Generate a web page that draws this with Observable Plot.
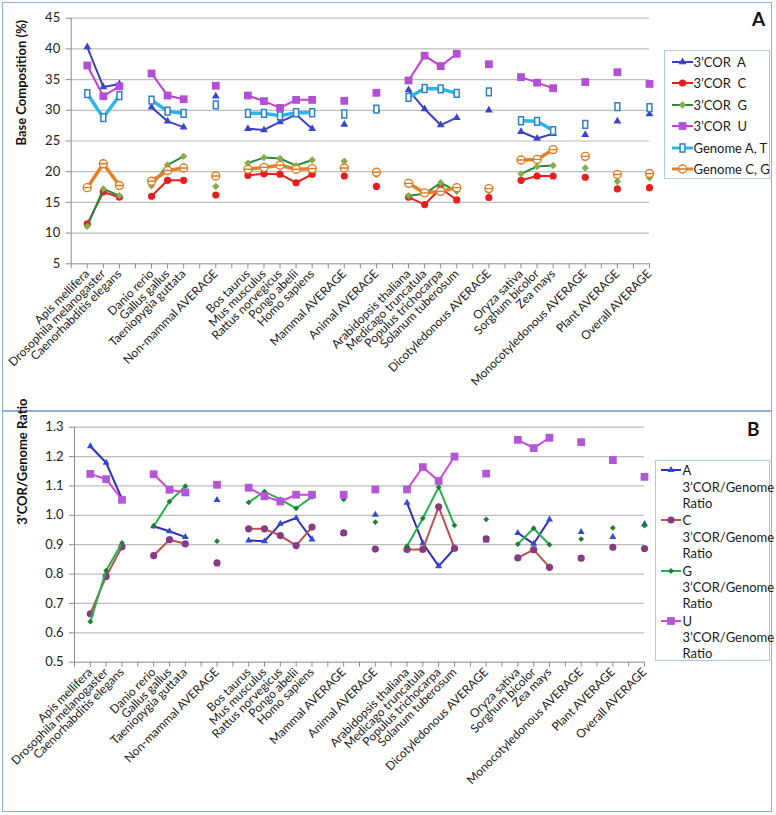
<!DOCTYPE html>
<html><head><meta charset="utf-8">
<script src="https://cdn.jsdelivr.net/npm/d3@7"></script>
<script src="https://cdn.jsdelivr.net/npm/@observablehq/plot@0.6"></script>
<style>
body{margin:0;background:#fff;font-family:Lato,"Open Sans",sans-serif;}
#wrap{position:relative;width:776px;height:815px;overflow:hidden;background:#fff;}
.box{position:absolute;border:1.5px solid #8EB0D9;box-sizing:border-box;}
.plot{position:absolute;left:0;}
.legend{position:absolute;border:1px solid #A9CBE6;background:#fff;box-sizing:border-box;}
.entry{position:absolute;font-size:13px;color:#1a1a1a;white-space:pre;line-height:16px;}
.letter{position:absolute;font-weight:bold;font-size:19px;color:#111;line-height:20px;}
</style></head><body><div id="wrap"></div><script>
// ---------- data ----------
const categories = ["Apis mellifera","Drosophila melanogaster","Caenorhabditis elegans","",
"Danio rerio","Gallus gallus","Taeniopygia guttata","",
"Non-mammal AVERAGE","",
"Bos taurus","Mus musculus","Rattus norvegicus","Pongo abelii","Homo sapiens","",
"Mammal AVERAGE","",
"Animal AVERAGE","",
"Arabidopsis thaliana","Medicago truncatula","Populus trichocarpa","Solanum tuberosum","",
"Dicotyledonous AVERAGE","",
"Oryza sativa","Sorghum bicolor","Zea mays","",
"Monocotyledonous AVERAGE","",
"Plant AVERAGE","",
"Overall AVERAGE"];

const corA  = [40.3,33.8,34.3,null, 30.5,28.2,27.25,null, 32.3,null, 27.0,26.8,28.1,29.3,27.0,null, 27.7,null, 30.1,null, 33.3,30.2,27.6,28.8,null, 30.0,null, 26.5,25.4,26.2,null, 26.0,null, 28.2,null, 29.4];
const corC  = [11.5,16.7,15.85,null, 16.0,18.6,18.6,null, 16.2,null, 19.4,19.66,19.6,18.2,19.6,null, 19.3,null, 17.6,null, 15.85,14.65,17.3,15.4,null, 15.8,null, 18.6,19.3,19.3,null, 19.1,null, 17.2,null, 17.4];
const corG  = [11.1,17.2,16.1,null, 17.7,21.1,22.5,null, 17.6,null, 21.4,22.3,22.15,21.0,21.9,null, 21.7,null, 19.55,null, 16.1,16.4,18.2,16.8,null, 16.9,null, 19.65,20.85,21.0,null, 20.6,null, 18.4,null, 19.0];
const corU  = [37.3,32.3,33.9,null, 36.0,32.4,31.8,null, 34.0,null, 32.4,31.5,30.4,31.7,31.7,null, 31.55,null, 32.85,null, 34.85,38.9,37.2,39.2,null, 37.5,null, 35.4,34.5,33.6,null, 34.6,null, 36.2,null, 34.3];
const genAT = [32.7,28.8,32.4,null, 31.65,29.85,29.5,null, 30.9,null, 29.5,29.5,29.1,29.6,29.6,null, 29.4,null, 30.2,null, 32.1,33.55,33.5,32.75,null, 33.0,null, 28.3,28.2,26.7,null, 27.7,null, 30.6,null, 30.45];
const genCG = [17.4,21.3,17.75,null, 18.45,20.2,20.6,null, 19.3,null, 20.4,20.7,21.05,20.4,20.5,null, 20.6,null, 19.9,null, 18.1,16.55,16.8,17.4,null, 17.25,null, 21.9,22.0,23.6,null, 22.5,null, 19.55,null, 19.7];

const ratioA = [1.235,1.179,1.055,null, 0.963,0.946,0.926,null, 1.052,null, 0.914,0.912,0.971,0.991,0.918,null, 0.940,null, 1.002,null, 1.043,0.905,0.827,0.887,null, 0.914,null, 0.940,0.903,0.986,null, 0.943,null, 0.926,null, 0.970];
const ratioC = [0.665,0.792,0.893,null, 0.863,0.917,0.903,null, 0.838,null, 0.954,0.954,0.931,0.897,0.960,null, 0.940,null, 0.885,null, 0.884,0.884,1.029,0.888,null, 0.920,null, 0.855,0.883,0.823,null, 0.854,null, 0.891,null, 0.887];
const ratioG = [0.638,0.812,0.906,null, 0.963,1.047,1.099,null, 0.912,null, 1.044,1.081,1.054,1.024,1.063,null, 1.054,null, 0.977,null, 0.895,0.990,1.096,0.966,null, 0.986,null, 0.902,0.956,0.900,null, 0.919,null, 0.957,null, 0.965];
const ratioU = [1.141,1.123,1.053,null, 1.140,1.087,1.078,null, 1.104,null, 1.094,1.065,1.047,1.070,1.070,null, 1.070,null, 1.088,null, 1.088,1.164,1.117,1.200,null, 1.142,null, 1.257,1.229,1.264,null, 1.249,null, 1.188,null, 1.131];

const ticksA = [5,10,15,20,25,30,35,40,45];
const ticksB = [0.5,0.6,0.7,0.8,0.9,1.0,1.1,1.2,1.3];

// ---------- symbols ----------
const tallRect = {draw(ctx,size){const h=Math.sqrt(size)*0.5,w=h*0.62;ctx.moveTo(-w,-h);ctx.lineTo(w,-h);ctx.lineTo(w,h);ctx.lineTo(-w,h);ctx.closePath();}};
const circleBar = {draw(ctx,size){const r=Math.sqrt(size/Math.PI);ctx.moveTo(r,0);ctx.arc(0,0,r,0,2*Math.PI);ctx.moveTo(-r,0);ctx.lineTo(r,0);}};

const seriesA = [
 {name:"3’COR  A", values:corA, line:"#3B3FC2", lw:2, sym:d3.symbolTriangle, r:2.9, fill:"#3A45C8"},
 {name:"3’COR  C", values:corC, line:"#E3221E", lw:2, sym:d3.symbolCircle, r:3.6, fill:"#E51F1F"},
 {name:"3’COR  G", values:corG, line:"#2A8A3C", lw:2, sym:d3.symbolDiamond2, r:3.3, fill:"#86AC4C"},
 {name:"3’COR  U", values:corU, line:"#C23FCF", lw:2, sym:d3.symbolSquare, r:4.4, fill:"#B150D2"},
 {name:"Genome A, T", values:genAT, line:"#2CB5EA", lw:3.5, sym:tallRect, r:4.4, fill:"#fff", stroke:"#2C80C9", sw:1.5},
 {name:"Genome C, G", values:genCG, line:"#E88028", lw:3.5, sym:circleBar, r:4, fill:"#fff", stroke:"#E07B22", sw:1.4}
];
const seriesB = [
 {name:"A", values:ratioA, line:"#2E2EB8", lw:2, sym:d3.symbolTriangle, r:2.6, fill:"#2F4DD2"},
 {name:"C", values:ratioC, line:"#C0504D", lw:2, sym:d3.symbolCircle, r:3.6, fill:"#873B82"},
 {name:"G", values:ratioG, line:"#27B04A", lw:2, sym:d3.symbolDiamond2, r:2.6, fill:"#1E7E32"},
 {name:"U", values:ratioU, line:"#CC45DD", lw:2, sym:d3.symbolSquare, r:4.4, fill:"#B457D6"}
];

function panel({series, ticks, fmt, height, mt, mb, ml, mr, title, tdx, tdy}) {
  const marks = [
    Plot.gridY(ticks.slice(1), {stroke:"#BDBDBD", strokeOpacity:1, strokeWidth:1.2}),
    Plot.ruleX([0], {stroke:"#8C8C8C"}),
    Plot.ruleY([ticks[0]], {stroke:"#8C8C8C"}),
    Plot.axisY(ticks, {tickSize:5, stroke:"#8C8C8C", fontSize:13, tickPadding:6, label:null, tickFormat:fmt, fill:"#222"}),
    Plot.axisX(d3.range(0,37), {tickSize:5, stroke:"#8C8C8C", tickRotate:-45, fontSize:12, tickPadding:3, label:null,
      tickFormat:i => i===0 ? "" : categories[i-1], fill:"#222"}),
    Plot.text([title], {frameAnchor:"left", rotate:-90, dx:tdx, dy:tdy, fontWeight:"bold", fontSize:13, fill:"#111", text:d=>d})
  ];
  for (const s of series) {
    const data = s.values.map((v,k)=>({i:k+1, v: v==null ? NaN : v}));
    marks.push(Plot.line(data, {x:"i", y:"v", stroke:s.line, strokeWidth:s.lw}));
    marks.push(Plot.dot(data, {x:"i", y:"v", symbol:s.sym, r:s.r, fill:s.fill, stroke:s.stroke||"none", strokeWidth:s.sw||0}));
  }
  return Plot.plot({
    width:776, height, marginTop:mt, marginBottom:mb, marginLeft:ml, marginRight:mr,
    x:{type:"linear", domain:[0,36]},
    y:{type:"linear", domain:[ticks[0], ticks[ticks.length-1]]},
    style:{fontFamily:"Lato, 'Open Sans', sans-serif", background:"transparent", overflow:"visible"},
    marks
  });
}

const wrap = document.getElementById("wrap");
function add(html){const d=document.createElement("div");d.innerHTML=html;const n=d.firstChild;wrap.appendChild(n);return n;}

add('<div class="box" style="left:2px;top:2px;width:770px;height:410px"></div>');
add('<div class="box" style="left:2px;top:410px;width:770px;height:402px"></div>');

const pA = panel({series:seriesA, ticks:ticksA, fmt:d3.format("d"), height:410, mt:17.7, mb:146.7, ml:70.7, mr:127,
  title:"Base Composition (%)", tdx:-49, tdy:4.5});
pA.classList.add("plot"); pA.style.top="0px"; wrap.appendChild(pA);

const pB = panel({series:seriesB, ticks:ticksB, fmt:d3.format(".1f"), height:405, mt:16.7, mb:153.3, ml:74, mr:132,
  title:"3’COR/Genome Ratio", tdx:-52, tdy:-20});
pB.classList.add("plot"); pB.style.top="410px"; wrap.appendChild(pB);

function swatch(s, w) {
  const size = s.r*s.r*Math.PI;
  const p = d3.symbol(s.sym, size)();
  return `<svg width="${w}" height="12" style="position:absolute;left:0;top:2px;overflow:visible">
    <line x1="0" x2="${w}" y1="6" y2="6" stroke="${s.line}" stroke-width="${Math.min(s.lw,3)}"/>
    <path d="${p}" transform="translate(${w/2},6)" fill="${s.fill}" stroke="${s.stroke||'none'}" stroke-width="${s.sw||0}"/></svg>`;
}

// legend A
const legA = add('<div class="legend" style="left:664px;top:50px;width:106px;height:129px"></div>');
seriesA.forEach((s,k)=>{
  const e=document.createElement("div"); e.className="entry";
  e.style.left="6.5px"; e.style.top=(11+k*21.46-8)+"px";
  e.innerHTML = swatch(s,21) + `<span style="position:absolute;left:22px;top:0">${s.name}</span>`;
  e.style.width="95px"; e.style.height="16px";
  legA.appendChild(e);
});
// legend B
const legB = add('<div class="legend" style="left:655px;top:460px;width:115px;height:201px"></div>');
seriesB.forEach((s,k)=>{
  const e=document.createElement("div"); e.className="entry";
  e.style.left="4.5px"; e.style.top=(9.3+k*50.1-8)+"px";
  e.style.width="108px"; e.style.height="48px";
  e.innerHTML = swatch(s,20) + `<span style="position:absolute;left:22px;top:0">${s.name}</span>`+
    `<span style="position:absolute;left:22px;top:16.4px">3’COR/Genome</span>`+
    `<span style="position:absolute;left:22px;top:32.4px">Ratio</span>`;
  legB.appendChild(e);
});

add('<div class="letter" style="left:752px;top:9px">A</div>');
add('<div class="letter" style="left:747px;top:419px">B</div>');
</script></body></html>
